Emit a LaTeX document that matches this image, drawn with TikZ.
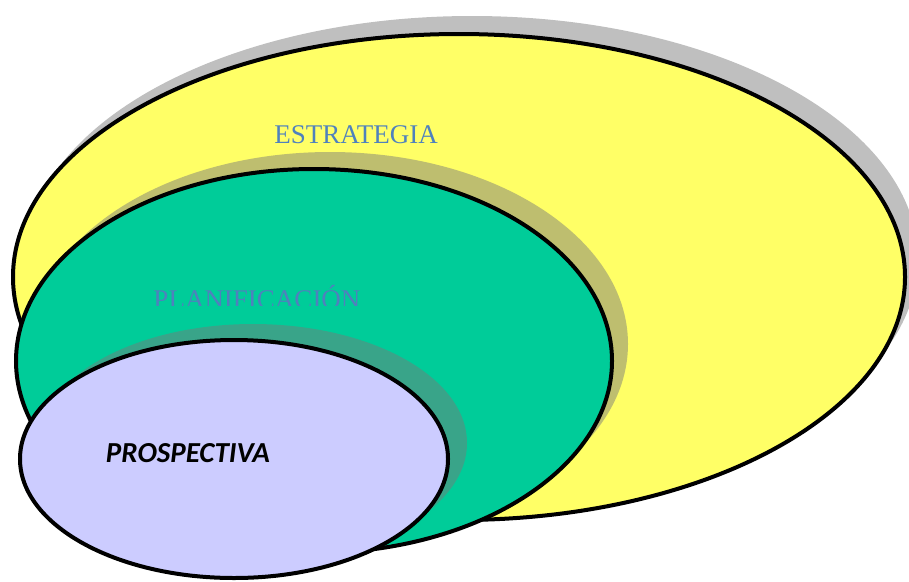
\documentclass[tikz,border=0pt]{standalone}
\usepackage{fontspec}
\setmainfont{Liberation Serif}
\newfontfamily\calib{Carlito}
\usetikzlibrary{shapes.geometric}
\definecolor{yel}{RGB}{255,255,102}
\definecolor{grn}{RGB}{0,204,153}
\definecolor{lav}{RGB}{204,204,255}
\definecolor{lbl}{RGB}{79,129,189}
\definecolor{shd}{RGB}{121,121,121}
\begin{document}
\begin{tikzpicture}[x=1pt,y=-1pt,
  ring/.style={ellipse,draw=black,line width=4pt,inner sep=0pt},
  shadowring/.style={ellipse,fill=shd,fill opacity=0.48,inner sep=0pt},
  lbltext/.style={text=lbl,font=\fontsize{27}{30}\selectfont,inner sep=0pt}]
\useasboundingbox (0,0) rectangle (909,581);
\node[shadowring,minimum width=892pt,minimum height=486pt] (estshadow) at (472,259) {};
\node[ring,fill=yel,minimum width=892pt,minimum height=486pt] (estrategia) at (459,277) {};
\node[lbltext] (estlabel) at (356,135) {ESTRATEGIA};
\node[shadowring,minimum width=596pt,minimum height=384pt] (planshadow) at (330,344) {};
\node[ring,fill=grn,minimum width=596pt,minimum height=384pt] (planificacion) at (314,361) {};
\begin{scope}
\clip (100,270) rectangle (420,305);
\node[lbltext] (planlabel) at (257,297) {PLANIFICACIÓN};
\end{scope}
\node[shadowring,minimum width=428pt,minimum height=238pt] (proshadow) at (253,443) {};
\node[ring,fill=lav,minimum width=428pt,minimum height=238pt] (prospectiva) at (234,459) {};
\node[font=\calib\bfseries\itshape\fontsize{29}{32}\selectfont,inner sep=0pt] (prolabel) at (188,453) {PROSPECTIVA};
\end{tikzpicture}
\end{document}
